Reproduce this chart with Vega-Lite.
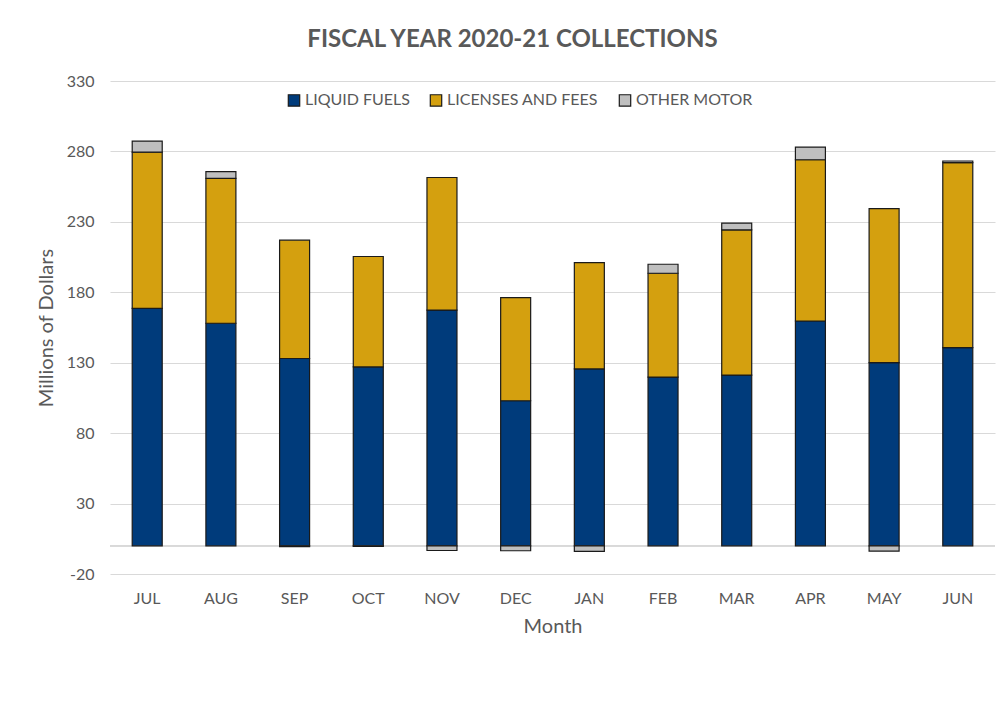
{
  "$schema": "https://vega.github.io/schema/vega-lite/v6.json",
  "width": 885,
  "height": 493,
  "autosize": {"type": "none"},
  "padding": {"left": 110, "top": 81, "right": 10, "bottom": 138},
  "background": "white",
  "title": {
    "text": "FISCAL YEAR 2020-21 COLLECTIONS",
    "font": "Lato",
    "fontSize": 24,
    "fontWeight": "bold",
    "color": "#595959",
    "anchor": "middle",
    "dx": -40,
    "offset": 21
  },
  "data": {
    "values": [
      {"month": "JUL", "type": "LIQUID FUELS", "value": 168.6},
      {"month": "JUL", "type": "LICENSES AND FEES", "value": 110.9},
      {"month": "JUL", "type": "OTHER MOTOR", "value": 7.8},
      {"month": "AUG", "type": "LIQUID FUELS", "value": 158.0},
      {"month": "AUG", "type": "LICENSES AND FEES", "value": 102.8},
      {"month": "AUG", "type": "OTHER MOTOR", "value": 4.8},
      {"month": "SEP", "type": "LIQUID FUELS", "value": 133.0},
      {"month": "SEP", "type": "LICENSES AND FEES", "value": 84.0},
      {"month": "SEP", "type": "OTHER MOTOR", "value": -0.5},
      {"month": "OCT", "type": "LIQUID FUELS", "value": 127.0},
      {"month": "OCT", "type": "LICENSES AND FEES", "value": 78.4},
      {"month": "OCT", "type": "OTHER MOTOR", "value": -0.4},
      {"month": "NOV", "type": "LIQUID FUELS", "value": 167.4},
      {"month": "NOV", "type": "LICENSES AND FEES", "value": 94.1},
      {"month": "NOV", "type": "OTHER MOTOR", "value": -3.3},
      {"month": "DEC", "type": "LIQUID FUELS", "value": 103.0},
      {"month": "DEC", "type": "LICENSES AND FEES", "value": 73.2},
      {"month": "DEC", "type": "OTHER MOTOR", "value": -3.5},
      {"month": "JAN", "type": "LIQUID FUELS", "value": 125.6},
      {"month": "JAN", "type": "LICENSES AND FEES", "value": 75.5},
      {"month": "JAN", "type": "OTHER MOTOR", "value": -4.0},
      {"month": "FEB", "type": "LIQUID FUELS", "value": 119.8},
      {"month": "FEB", "type": "LICENSES AND FEES", "value": 73.7},
      {"month": "FEB", "type": "OTHER MOTOR", "value": 6.4},
      {"month": "MAR", "type": "LIQUID FUELS", "value": 121.2},
      {"month": "MAR", "type": "LICENSES AND FEES", "value": 103.1},
      {"month": "MAR", "type": "OTHER MOTOR", "value": 4.8},
      {"month": "APR", "type": "LIQUID FUELS", "value": 159.6},
      {"month": "APR", "type": "LICENSES AND FEES", "value": 114.5},
      {"month": "APR", "type": "OTHER MOTOR", "value": 9.0},
      {"month": "MAY", "type": "LIQUID FUELS", "value": 130.0},
      {"month": "MAY", "type": "LICENSES AND FEES", "value": 109.4},
      {"month": "MAY", "type": "OTHER MOTOR", "value": -3.7},
      {"month": "JUN", "type": "LIQUID FUELS", "value": 140.7},
      {"month": "JUN", "type": "LICENSES AND FEES", "value": 131.3},
      {"month": "JUN", "type": "OTHER MOTOR", "value": 1.2}
    ]
  },
  "layer": [
    {
      "mark": {"type": "rule", "color": "#D9D9D9", "strokeWidth": 1.5},
      "encoding": {
        "y": {
          "datum": 0,
          "type": "quantitative",
          "scale": {"domain": [-20, 330], "nice": false, "zero": false},
          "axis": {"title": "Millions of Dollars", "values": [-20, 30, 80, 130, 180, 230, 280, 330]}
        }
      }
    },
    {
      "transform": [
        {"calculate": "indexof(['LIQUID FUELS','LICENSES AND FEES','OTHER MOTOR'], datum.type)", "as": "stackOrder"}
      ],
      "mark": {"type": "bar", "stroke": "#1a1a1a", "strokeWidth": 1.2, "width": 30},
      "encoding": {
        "x": {
          "field": "month",
          "type": "nominal",
          "sort": ["JUL","AUG","SEP","OCT","NOV","DEC","JAN","FEB","MAR","APR","MAY","JUN"],
          "scale": {"paddingInner": 0.59, "paddingOuter": 0.3},
          "axis": {"title": "Month"}
        },
        "y": {
          "field": "value",
          "type": "quantitative",
          "stack": "zero",
          "scale": {"domain": [-20, 330], "nice": false, "zero": false},
          "axis": {"title": "Millions of Dollars", "values": [-20, 30, 80, 130, 180, 230, 280, 330]}
        },
        "color": {
          "field": "type",
          "type": "nominal",
          "scale": {
            "domain": ["LIQUID FUELS", "LICENSES AND FEES", "OTHER MOTOR"],
            "range": ["#003B7B", "#D4A00F", "#BFBFBF"]
          },
          "legend": {
            "title": null,
            "orient": "none",
            "legendX": 176,
            "legendY": 11,
            "direction": "horizontal",
            "symbolType": "square",
            "symbolSize": 130,
            "symbolStrokeColor": "#1a1a1a",
            "symbolStrokeWidth": 1.2,
            "symbolOpacity": 1,
            "labelFont": "Lato",
            "labelFontSize": 16,
            "labelColor": "#595959",
            "labelOffset": 3,
            "columnPadding": 17
          }
        },
        "order": {"field": "stackOrder", "type": "quantitative", "sort": "ascending"}
      }
    }
  ],
  "config": {
    "view": {"stroke": null},
    "axis": {
      "domain": false,
      "ticks": false,
      "labelFont": "Lato",
      "labelFontSize": 16,
      "labelColor": "#595959",
      "titleFont": "Lato",
      "titleFontSize": 20,
      "titleFontWeight": "normal",
      "titleColor": "#595959"
    },
    "axisX": {"labelAngle": 0, "labelPadding": 16, "titlePadding": 10, "grid": false},
    "axisY": {
      "grid": true,
      "gridColor": "#D9D9D9",
      "gridWidth": 1.2,
      "labelPadding": 16,
      "titlePadding": 10,
      "labelExpr": "replace(datum.label, '\u2212', '-')"
    }
  }
}
